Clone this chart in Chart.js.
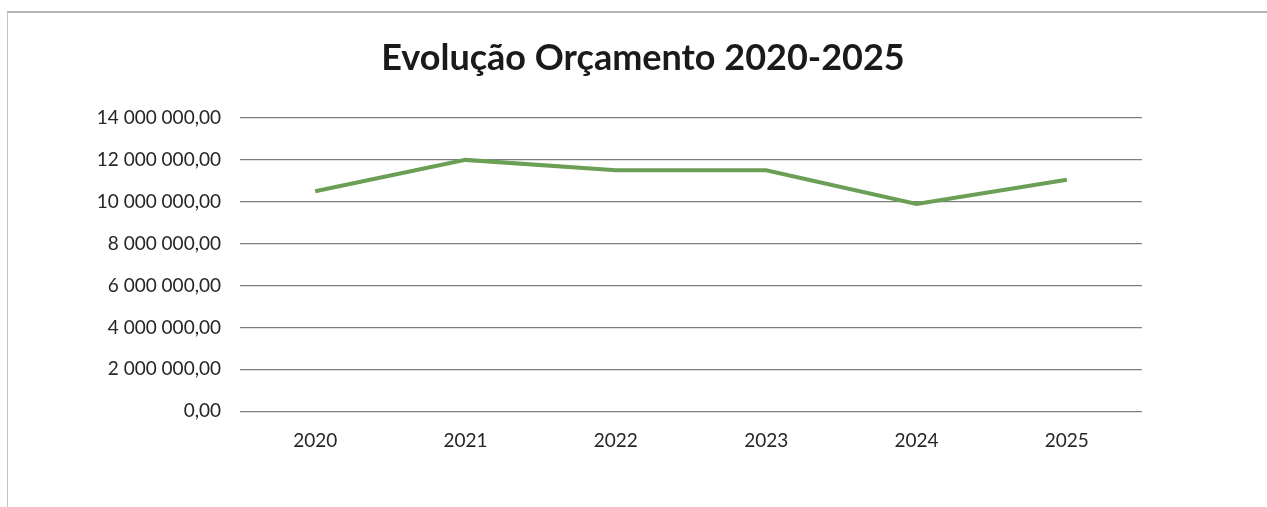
<!DOCTYPE html>
<html>
<head>
<meta charset="utf-8">
<script src="https://cdn.jsdelivr.net/npm/chart.js@4"></script>
<style>
  html, body { margin: 0; padding: 0; background: #fff; }
  #frame { position: absolute; left: 7px; top: 11px; width: 1260px; height: 496px;
           border-top: 2px solid #b5b5b5; border-left: 1px solid #c4c4c4; }
  #budget { position: absolute; left: 0; top: 0; }
  #title { position: absolute; left: 343px; width: 600px; top: 35px; height: 43px;
           text-align: center; font: bold 36px/43px Lato, sans-serif; color: #1a1a1a; }
</style>
</head>
<body>
<div id="frame"></div>
<canvas id="budget" width="1267" height="507"></canvas>
<div id="title">Evolução Orçamento 2020-2025</div>
<script>
  // Years and budget values
  const years = ['2020', '2021', '2022', '2023', '2024', '2025'];
  const budget = [10500000, 12000000, 11500000, 11500000, 9900000, 11050000];
  const yTicks = [0, 2000000, 4000000, 6000000, 8000000, 10000000, 12000000, 14000000];

  // "14 000 000,00" style
  function fmt(v) {
    const parts = Number(v).toFixed(2).split('.');
    return parts[0].replace(/\B(?=(\d{3})+(?!\d))/g, ' ') + ',' + parts[1];
  }

  const ctx = document.getElementById('budget').getContext('2d');

  const budgetChart = new Chart(ctx, {
    type: 'line',
    data: {
      labels: years,
      datasets: [{
        label: 'Orçamento',
        data: budget,
        borderColor: '#6a9f55',
        backgroundColor: '#6a9f55',
        borderWidth: 4,
        pointRadius: 0,
        tension: 0
      }]
    },
    options: {
      responsive: false,
      animation: false,
      layout: { padding: { left: 0, right: 125, top: 118, bottom: 37 } },
      plugins: {
        legend: { display: false },
        tooltip: { enabled: false },
        title: { display: false }
      },
      scales: {
        x: {
          offset: true,
          grid: { display: false, drawTicks: false },
          border: { display: false },
          ticks: { color: '#262626', font: { family: 'Lato', size: 19 }, padding: 18 }
        },
        y: {
          min: 0,
          max: 14000000,
          afterBuildTicks: (scale) => { scale.ticks = yTicks.map(v => ({ value: v })); },
          afterFit: (scale) => { scale.width = 240; },
          grid: { color: '#7f7f7f', lineWidth: 1.2, drawTicks: false },
          border: { display: false },
          ticks: {
            color: '#262626',
            font: { family: 'Lato', size: 19 },
            padding: 19,
            callback: (v) => fmt(v)
          }
        }
      }
    }
  });
</script>
</body>
</html>
